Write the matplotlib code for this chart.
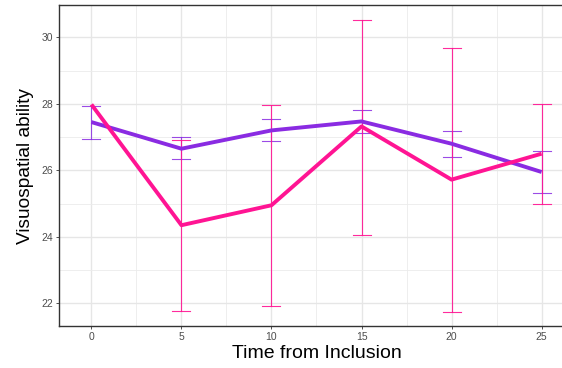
import numpy as np
import matplotlib
matplotlib.use('Agg')
import matplotlib.pyplot as plt
from matplotlib.ticker import MultipleLocator

plt.rcParams['font.family'] = ['Liberation Sans', 'DejaVu Sans']

# Data
time = [0, 5, 10, 15, 20, 25]
purple_mean = [27.45, 26.65, 27.20, 27.47, 26.80, 25.95]
purple_low = [26.94, 26.33, 26.89, 27.13, 26.40, 25.32]
purple_high = [27.94, 26.99, 27.54, 27.82, 27.19, 26.58]
pink_mean = [27.98, 24.35, 24.95, 27.32, 25.72, 26.50]
pink_low = [np.nan, 21.78, 21.93, 24.07, 21.75, 25.00]
pink_high = [np.nan, 26.90, 27.96, 30.53, 29.69, 28.00]

purple = '#8A2BE2'
pink = '#FF1493'

fig = plt.figure(figsize=(5.62, 3.68), dpi=100)
ax = fig.add_axes([59/562, 42/368, 515/562, 321/368])

# error bars (caps width = 1 time unit)
for x, lo, hi in zip(time, purple_low, purple_high):
    ax.plot([x, x], [lo, hi], color=purple, lw=0.8, alpha=0.85, zorder=2)
    ax.plot([x - 0.5, x + 0.5], [lo, lo], color=purple, lw=0.8, alpha=0.85, zorder=2)
    ax.plot([x - 0.5, x + 0.5], [hi, hi], color=purple, lw=0.8, alpha=0.85, zorder=2)
for x, lo, hi in zip(time, pink_low, pink_high):
    if np.isnan(lo):
        continue
    ax.plot([x, x], [lo, hi], color=pink, lw=0.8, alpha=0.9, zorder=2)
    ax.plot([x - 0.5, x + 0.5], [lo, lo], color=pink, lw=0.8, alpha=0.9, zorder=2)
    ax.plot([x - 0.5, x + 0.5], [hi, hi], color=pink, lw=0.8, alpha=0.9, zorder=2)

ax.plot(time, purple_mean, color=purple, lw=2.8, zorder=3, solid_capstyle='butt')
ax.plot(time, pink_mean, color=pink, lw=2.8, zorder=4, solid_capstyle='butt')

ax.set_xlim(-1.8, 26.8)
ax.set_ylim(21.32, 30.97)
ax.xaxis.set_major_locator(MultipleLocator(5))
ax.xaxis.set_minor_locator(MultipleLocator(2.5))
ax.yaxis.set_major_locator(MultipleLocator(2))
ax.yaxis.set_minor_locator(MultipleLocator(1))

ax.grid(which='major', color='#E6E6E6', lw=1.0, zorder=0)
ax.grid(which='minor', color='#EBEBEB', lw=0.6, zorder=0)
ax.set_axisbelow(True)

ax.tick_params(which='major', length=2.5, width=0.6, color='#333333',
               labelsize=7.5, labelcolor='#4D4D4D', pad=2)
ax.tick_params(which='minor', length=0)
for s in ax.spines.values():
    s.set_color('#333333')
    s.set_linewidth(1.0)

ax.set_xlabel('Time from Inclusion', fontsize=14, labelpad=2)
ax.set_ylabel('Visuospatial ability', fontsize=13.8, labelpad=5)

fig.savefig('out.png', dpi=100)
